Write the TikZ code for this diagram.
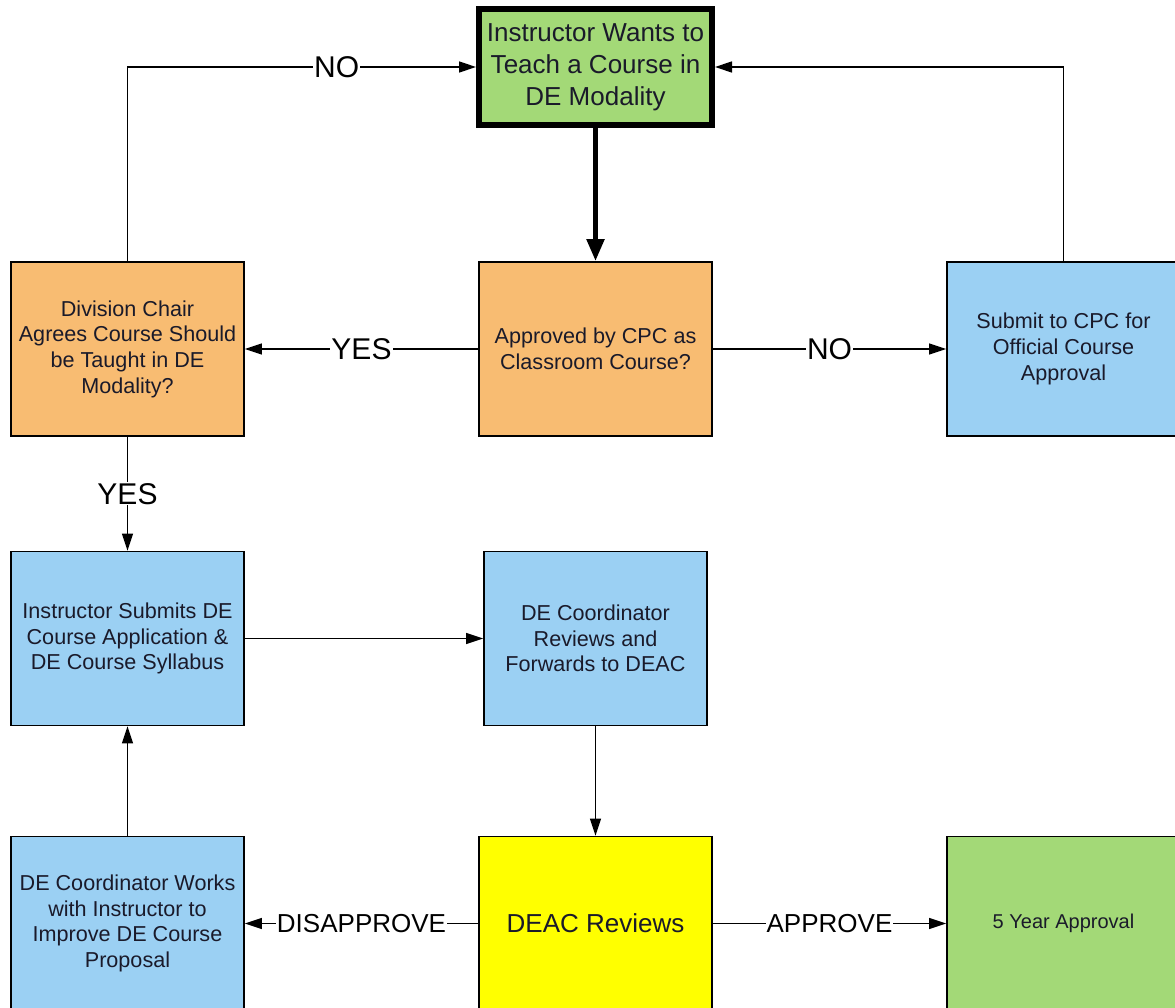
\documentclass[tikz,border=0pt]{standalone}
\usepackage{fontspec}
\setmainfont{Liberation Sans}
\usetikzlibrary{arrows.meta}
\definecolor{cOrange}{HTML}{F8BC72}
\definecolor{cBlue}{HTML}{9BD0F3}
\definecolor{cGreen}{HTML}{A3D977}
\definecolor{cYellow}{HTML}{FFFF00}
\definecolor{cText}{HTML}{1A1A2A}
\tikzset{
  box/.style={draw=black, line width=1.8pt, minimum width=233pt, minimum height=174pt,
    align=center, text=cText, inner sep=0pt, outer sep=0.9pt,
    font=\fontsize{21.6}{25.7}\selectfont},
  conn/.style={line width=1.4pt, -{Triangle[length=17pt,width=11pt]}},
  lbl/.style={fill=white, inner sep=1pt, text=black, font=\fontsize{30}{32}\selectfont},
  lblsm/.style={lbl, font=\fontsize{26}{30}\selectfont},
}
\begin{document}
\begin{tikzpicture}[x=1pt,y=-1pt]
\useasboundingbox (0,0) rectangle (1175,1008);
\clip (0,0) rectangle (1175,1008);
\fill[white] (0,0) rectangle (1175,1008);

\node[box, fill=cGreen, line width=6pt, outer sep=3pt, minimum width=233pt, minimum height=116pt,
  font=\fontsize{26}{32}\selectfont] (top) at (595.5,67) {Instructor Wants to\\Teach a Course in\\DE Modality};

\node[box, fill=cOrange] (div) at (127.5,349) {Division Chair\\Agrees Course Should\\be Taught in DE\\Modality?};
\node[box, fill=cOrange] (cpc) at (595.5,349) {Approved by CPC as\\Classroom Course?};
\node[box, fill=cBlue] (sub) at (1063.5,349) {Submit to CPC for\\Official Course\\Approval};

\node[box, fill=cBlue] (ins) at (127.5,638.5) {Instructor Submits DE\\Course Application \&\\DE Course Syllabus};
\node[box, fill=cBlue, minimum width=223pt] (rev) at (595.5,638.5) {DE Coordinator\\Reviews and\\Forwards to DEAC};

\node[box, fill=cBlue] (work) at (127.5,923.5) {DE Coordinator Works\\with Instructor to\\Improve DE Course\\Proposal};
\node[box, fill=cYellow, font=\fontsize{26}{30}\selectfont] (deac) at (595.5,923.5) {DEAC Reviews};
\node[box, fill=cGreen, font=\fontsize{20}{24}\selectfont] (five) at (1063.5,923.5) {5 Year Approval};

\draw[line width=5pt, -{Triangle[length=22pt,width=17pt]}] (top.south) -- (cpc.north);
\draw[conn] (cpc.west) -- node[lbl]{YES} (div.east);
\draw[conn] (cpc.east) -- node[lbl]{NO} (sub.west);
\draw[conn] (div.north) |- node[lbl, pos=0.8]{NO} (top.west);
\draw[conn] (sub.north) |- (top.east);
\draw[conn] (div.south) -- node[lbl]{YES} (ins.north);
\draw[conn] (ins.east) -- (rev.west);
\draw[conn] (rev.south) -- (deac.north);
\draw[conn] (deac.west) -- node[lblsm]{DISAPPROVE} (work.east);
\draw[conn] (deac.east) -- node[lblsm]{APPROVE} (five.west);
\draw[conn] (work.north) -- (ins.south);
\end{tikzpicture}
\end{document}
